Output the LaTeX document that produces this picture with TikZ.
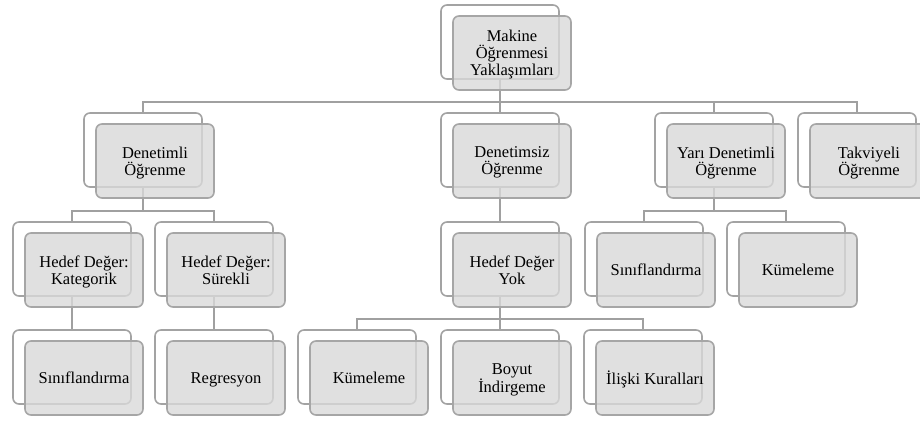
\documentclass[tikz,border=0pt]{standalone}
\usepackage{fontspec}
\setmainfont{Liberation Serif}
\pgfdeclarelayer{bg}
\pgfsetlayers{bg,main}
\definecolor{framec}{HTML}{A3A3A3}
\definecolor{frontc}{HTML}{A6A6A6}
\definecolor{fillg}{HTML}{D9D9D9}
\definecolor{connc}{HTML}{A0A0A0}
\newcommand\smnode[4]{%
  \node[backbox] (#1B) at (#2,#3) {};
  \node[frontbox] (#1) at (#2+12,#3+11) {#4};}
\begin{document}
\begin{tikzpicture}[x=1pt,y=-1pt,
  backbox/.style={draw=framec, fill=white, line width=1.6pt, rounded corners=6pt,
    minimum width=118pt, minimum height=74pt, inner sep=0pt, outer sep=0pt, anchor=north west},
  frontbox/.style={draw=frontc, fill=fillg, fill opacity=0.8, text opacity=1, draw opacity=1,
    line width=1.6pt, rounded corners=6pt, minimum width=118pt, minimum height=74pt,
    inner sep=0pt, outer sep=0pt, anchor=north west, align=center, text depth=0pt,
    font=\fontsize{16.5}{17}\selectfont},
  conn/.style={draw=connc, line width=1.8pt}]
\useasboundingbox (0,0) rectangle (920,423);
% level 0
\smnode{root}{441}{5}{Makine\\Öğrenmesi\\Yaklaşımları}
% level 1
\smnode{den}{84}{113}{Denetimli\\Öğrenme}
\smnode{dsz}{441}{113}{Denetimsiz\\Öğrenme}
\smnode{yari}{655}{113}{Yarı Denetimli\\Öğrenme}
\smnode{tak}{798}{113}{Takviyeli\\Öğrenme}
% level 2
\smnode{kat}{13}{222}{Hedef Değer:\\Kategorik}
\smnode{sur}{155}{222}{Hedef Değer:\\Sürekli}
\smnode{yok}{441}{222}{Hedef Değer\\Yok}
\smnode{ysin}{585}{222}{Sınıflandırma}
\smnode{ykum}{727}{222}{Kümeleme}
% level 3
\smnode{sin}{13}{330}{Sınıflandırma}
\smnode{reg}{155}{330}{Regresyon}
\smnode{kum}{298}{330}{Kümeleme}
\smnode{boy}{441}{330}{Boyut\\İndirgeme}
\smnode{ili}{584}{330}{İlişki Kuralları}
% buses
\coordinate (bus1) at (0,102);
\coordinate (bus2) at (0,211);
\coordinate (bus3) at (0,319);
\begin{pgfonlayer}{bg}
\foreach \c in {den,dsz,yari,tak}
  \draw[conn] (rootB.center) -- (rootB.center |- bus1) -| (\c B.north);
\foreach \c in {kat,sur}
  \draw[conn] (denB.center) -- (denB.center |- bus2) -| (\c B.north);
\foreach \c in {ysin,ykum}
  \draw[conn] (yariB.center) -- (yariB.center |- bus2) -| (\c B.north);
\draw[conn] (dszB.center) -- (yokB.north);
\draw[conn] (katB.center) -- (sinB.north);
\draw[conn] (surB.center) -- (regB.north);
\foreach \c in {kum,boy,ili}
  \draw[conn] (yokB.center) -- (yokB.center |- bus3) -| (\c B.north);
\end{pgfonlayer}
\end{tikzpicture}
\end{document}
